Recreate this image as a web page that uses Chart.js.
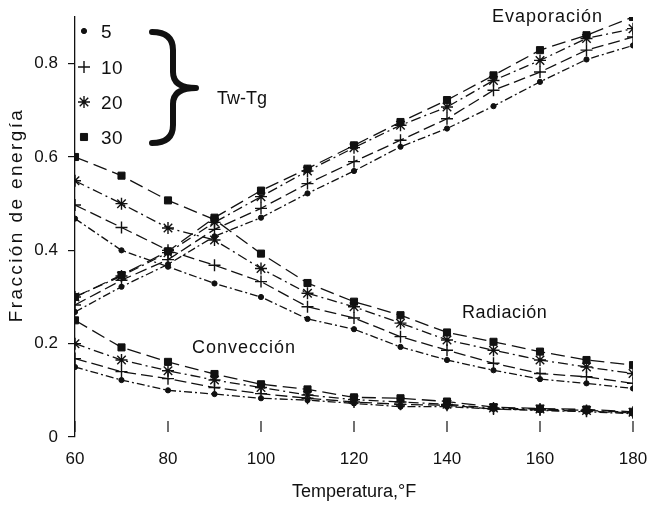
<!DOCTYPE html>
<html>
<head>
<meta charset="utf-8">
<script src="https://cdn.jsdelivr.net/npm/chart.js@4/dist/chart.umd.min.js"></script>
<style>
  html, body { margin: 0; padding: 0; background: #fff; }
  #wrap { width: 654px; height: 506px; position: relative; }
</style>
</head>
<body>
<div id="wrap"><canvas id="fracChart"></canvas></div>
<script>
// Temperatura (°F)
const temps = [60, 70, 80, 90, 100, 110, 120, 130, 140, 150, 160, 170, 180];
const yTicks = [0, 0.2, 0.4, 0.6, 0.8];
const twTg = ['5', '10', '20', '30'];

// Evaporación
const evap5  = [0.268, 0.322, 0.370, 0.430, 0.470, 0.522, 0.570, 0.622, 0.661, 0.709, 0.761, 0.809, 0.839];
const evap10 = [0.283, 0.336, 0.380, 0.445, 0.490, 0.543, 0.590, 0.636, 0.682, 0.743, 0.782, 0.829, 0.857];
const evap20 = [0.300, 0.345, 0.395, 0.460, 0.515, 0.570, 0.620, 0.668, 0.707, 0.764, 0.807, 0.854, 0.875];
const evap30 = [0.300, 0.347, 0.398, 0.470, 0.528, 0.575, 0.625, 0.675, 0.722, 0.775, 0.829, 0.861, 0.900];

// Radiación
const rad5  = [0.468, 0.400, 0.365, 0.329, 0.300, 0.253, 0.231, 0.193, 0.165, 0.143, 0.124, 0.115, 0.104];
const rad10 = [0.497, 0.449, 0.400, 0.368, 0.333, 0.279, 0.255, 0.215, 0.186, 0.158, 0.136, 0.129, 0.115];
const rad20 = [0.549, 0.500, 0.448, 0.422, 0.361, 0.308, 0.279, 0.244, 0.208, 0.186, 0.165, 0.150, 0.136];
const rad30 = [0.600, 0.560, 0.507, 0.466, 0.393, 0.330, 0.290, 0.261, 0.224, 0.204, 0.183, 0.165, 0.154];

// Convección
const conv5  = [0.150, 0.122, 0.100, 0.092, 0.083, 0.079, 0.072, 0.065, 0.065, 0.060, 0.057, 0.054, 0.050];
const conv10 = [0.168, 0.140, 0.125, 0.106, 0.093, 0.083, 0.075, 0.070, 0.068, 0.060, 0.058, 0.055, 0.052];
const conv20 = [0.200, 0.165, 0.142, 0.122, 0.106, 0.090, 0.080, 0.075, 0.070, 0.062, 0.060, 0.057, 0.053];
const conv30 = [0.250, 0.192, 0.161, 0.135, 0.113, 0.102, 0.085, 0.083, 0.076, 0.064, 0.061, 0.059, 0.054];

const ink = '#111';
const markers = {
  '5':  { pointStyle: 'circle', radius: 2.6, borderWidth: 1, dash: [8, 3, 2, 3] },
  '10': { pointStyle: 'cross',  radius: 6,   borderWidth: 1.4, dash: [12, 5] },
  '20': { pointStyle: 'star',   radius: 6,   borderWidth: 1.4, dash: [10, 4, 2, 4] },
  '30': { pointStyle: 'rect',   radius: 5,   borderWidth: 1, dash: [14, 6] }
};

function series(label, key, values) {
  const m = markers[key];
  return {
    label: label + ' ' + key,
    data: temps.map((t, i) => ({ x: t, y: values[i] })),
    borderColor: ink,
    borderWidth: 1.3,
    borderDash: m.dash,
    backgroundColor: ink,
    pointStyle: m.pointStyle,
    pointRadius: m.radius,
    pointBorderWidth: m.borderWidth,
    pointBackgroundColor: ink,
    pointBorderColor: ink,
    fill: false,
    tension: 0
  };
}

const datasets = [
  series('Evaporación', '5', evap5), series('Evaporación', '10', evap10),
  series('Evaporación', '20', evap20), series('Evaporación', '30', evap30),
  series('Radiación', '5', rad5), series('Radiación', '10', rad10),
  series('Radiación', '20', rad20), series('Radiación', '30', rad30),
  series('Convección', '5', conv5), series('Convección', '10', conv10),
  series('Convección', '20', conv20), series('Convección', '30', conv30)
];

const fontFam = '"Liberation Sans", Arial, sans-serif';

function drawText(ctx, txt, x, y, size, spacing, align) {
  ctx.save();
  ctx.font = size + 'px ' + fontFam;
  ctx.fillStyle = ink;
  ctx.letterSpacing = (spacing || 0) + 'px';
  ctx.textAlign = align || 'left';
  ctx.textBaseline = 'middle';
  ctx.fillText(txt, x, y);
  ctx.restore();
}

const annotations = {
  id: 'annotations',
  afterDraw(chart) {
    const ctx = chart.ctx;
    const xs = chart.scales.x;
    const area = chart.chartArea;

    // short x tick marks standing inside the plot
    ctx.save();
    ctx.strokeStyle = ink;
    ctx.lineWidth = 1.2;
    xs.ticks.forEach(t => {
      const px = xs.getPixelForValue(t.value);
      ctx.beginPath();
      ctx.moveTo(px, area.bottom - 16);
      ctx.lineTo(px, area.bottom - 5);
      ctx.stroke();
    });
    ctx.restore();

    // group labels
    drawText(ctx, 'Evaporación', 492, 17, 18, 1);
    drawText(ctx, 'Radiación', 462, 313, 18, 0.6);
    drawText(ctx, 'Convección', 192, 348, 18, 1);

    // axis titles
    drawText(ctx, 'Temperatura,°F', (area.left + area.right) / 2, 492, 18, 0, 'center');
    ctx.save();
    ctx.translate(17, 215);
    ctx.rotate(-Math.PI / 2);
    drawText(ctx, 'Fracción de energía', 0, 0, 19, 2.4, 'center');
    ctx.restore();

    // legend of Tw-Tg markers
    const legendY = [31, 67, 102, 137];
    twTg.forEach((k, i) => {
      const m = markers[k];
      ctx.save();
      ctx.fillStyle = ink;
      ctx.strokeStyle = ink;
      ctx.lineWidth = m.borderWidth;
      Chart.helpers.drawPoint(ctx, { pointStyle: m.pointStyle, radius: m.radius, borderWidth: m.borderWidth }, 84, legendY[i]);
      ctx.restore();
      drawText(ctx, k, 101, legendY[i] + 2, 19, 0.5);
    });

    // brace
    const x0 = 152, xm = 173, xt = 196, yTop = 32, yMid = 88, yBot = 143;
    ctx.save();
    ctx.strokeStyle = ink;
    ctx.lineCap = 'round';
    ctx.lineJoin = 'round';
    ctx.lineWidth = 6;
    ctx.beginPath();
    ctx.moveTo(x0, yTop);
    ctx.quadraticCurveTo(xm, yTop, xm, yTop + 18);
    ctx.lineTo(xm, yMid - 16);
    ctx.quadraticCurveTo(xm, yMid, xt, yMid);
    ctx.quadraticCurveTo(xm, yMid, xm, yMid + 16);
    ctx.lineTo(xm, yBot - 18);
    ctx.quadraticCurveTo(xm, yBot, x0, yBot);
    ctx.stroke();
    ctx.restore();
    drawText(ctx, 'Tw-Tg', 217, 99, 18, 0);
  }
};

const ctx = document.getElementById('fracChart').getContext('2d');
const chart = new Chart(ctx, {
  type: 'line',
  data: { datasets: datasets },
  options: {
    responsive: true,
    maintainAspectRatio: false,
    animation: false,
    layout: { padding: { top: 17, right: 21, left: 0, bottom: 0 } },
    plugins: {
      legend: { display: false },
      tooltip: { enabled: false }
    },
    scales: {
      x: {
        type: 'linear',
        min: 60,
        max: 180,
        afterBuildTicks: s => { s.ticks = temps.filter(t => t % 20 === 0).map(v => ({ value: v })); },
        afterFit: s => { s.height = 69; s.paddingLeft = 0; s.paddingRight = 0; },
        grid: { display: false },
        border: { display: false },
        ticks: { color: ink, font: { family: fontFam, size: 17 }, padding: 4, maxRotation: 0 }
      },
      y: {
        min: 0,
        max: 0.9,
        afterBuildTicks: s => { s.ticks = yTicks.map(v => ({ value: v })); },
        afterFit: s => { s.width = 75; s.paddingTop = 0; s.paddingBottom = 0; },
        grid: { drawOnChartArea: false, tickLength: 7, color: ink, lineWidth: 1.2 },
        border: { display: true, color: ink, width: 1.3 },
        ticks: { color: ink, font: { family: fontFam, size: 17 }, padding: 10, callback: v => String(v) }
      }
    }
  },
  plugins: [annotations]
});
</script>
</body>
</html>
